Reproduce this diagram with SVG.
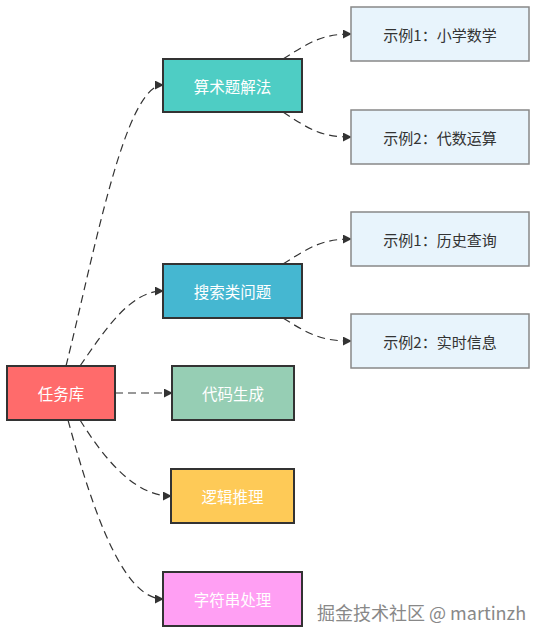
<svg xmlns="http://www.w3.org/2000/svg" width="545" height="642" viewBox="0 0 545 642">
<style>
.n rect{stroke:#333;stroke-width:2}
.n text{fill:#fff;font-family:"Noto Sans CJK SC","Noto Sans",sans-serif;font-size:15.5px;text-anchor:middle;dominant-baseline:central}
.e rect{fill:#E8F4FC;stroke:#888;stroke-width:1.5}
.e text{fill:#333;font-family:"Noto Sans CJK SC","Noto Sans",sans-serif;font-size:15px;text-anchor:middle;dominant-baseline:central}
.wm{fill:#888;font-family:"Noto Sans CJK SC","Noto Sans",sans-serif;font-size:18px}
#edges path{fill:none;stroke:#333;stroke-width:1.2;stroke-dasharray:8 5;marker-end:url(#arr)}
</style>
<defs>
<marker id="arr" viewBox="0 0 10 10" refX="9" refY="5" markerWidth="9" markerHeight="9" markerUnits="userSpaceOnUse" orient="auto">
<path d="M0,0 L10,5 L0,10 z" fill="#333"/>
</marker>
</defs>
<rect width="545" height="642" fill="#fff"/>
<g id="edges">
<path d="M66,366 C95,250 125,85 163,85"/>
<path d="M80,366 C105,330 130,291 163,291"/>
<path d="M115,393 L172,393"/>
<path d="M80,420 C105,460 135,496 171,496"/>
<path d="M68,420 C95,520 125,599 163,599"/>
<path d="M283,59 C310,42 322,34 351,34"/>
<path d="M283,112 C310,130 322,137 351,137"/>
<path d="M283,264 C310,247 322,239 351,239"/>
<path d="M283,318 C310,335 322,341 351,341"/>
</g>
<g id="task" class="n"><rect x="7" y="366" width="108" height="54" fill="#FF6B6B"/><text x="61" y="393">任务库</text></g>
<g id="arith" class="n"><rect x="163" y="59" width="139" height="53" fill="#4ECDC4"/><text x="232.5" y="85.5">算术题解法</text></g>
<g id="search" class="n"><rect x="163" y="264" width="139" height="54" fill="#45B7D1"/><text x="232.5" y="291">搜索类问题</text></g>
<g id="code" class="n"><rect x="172" y="366" width="122" height="54" fill="#96CEB4"/><text x="233" y="393">代码生成</text></g>
<g id="logic" class="n"><rect x="171" y="469" width="123" height="54" fill="#FECA57"/><text x="232.5" y="496">逻辑推理</text></g>
<g id="string" class="n"><rect x="163" y="572" width="139" height="54" fill="#FF9FF3"/><text x="232.5" y="599">字符串处理</text></g>
<g id="ex1" class="e"><rect x="351" y="7" width="178" height="54"/><text x="440" y="34">示例1：小学数学</text></g>
<g id="ex2" class="e"><rect x="351" y="110" width="178" height="54"/><text x="440" y="137">示例2：代数运算</text></g>
<g id="ex3" class="e"><rect x="351" y="212" width="178" height="54"/><text x="440" y="239">示例1：历史查询</text></g>
<g id="ex4" class="e"><rect x="351" y="314" width="178" height="54"/><text x="440" y="341">示例2：实时信息</text></g>
<text class="wm" x="317" y="620">掘金技术社区 @ martinzh</text>
</svg>
